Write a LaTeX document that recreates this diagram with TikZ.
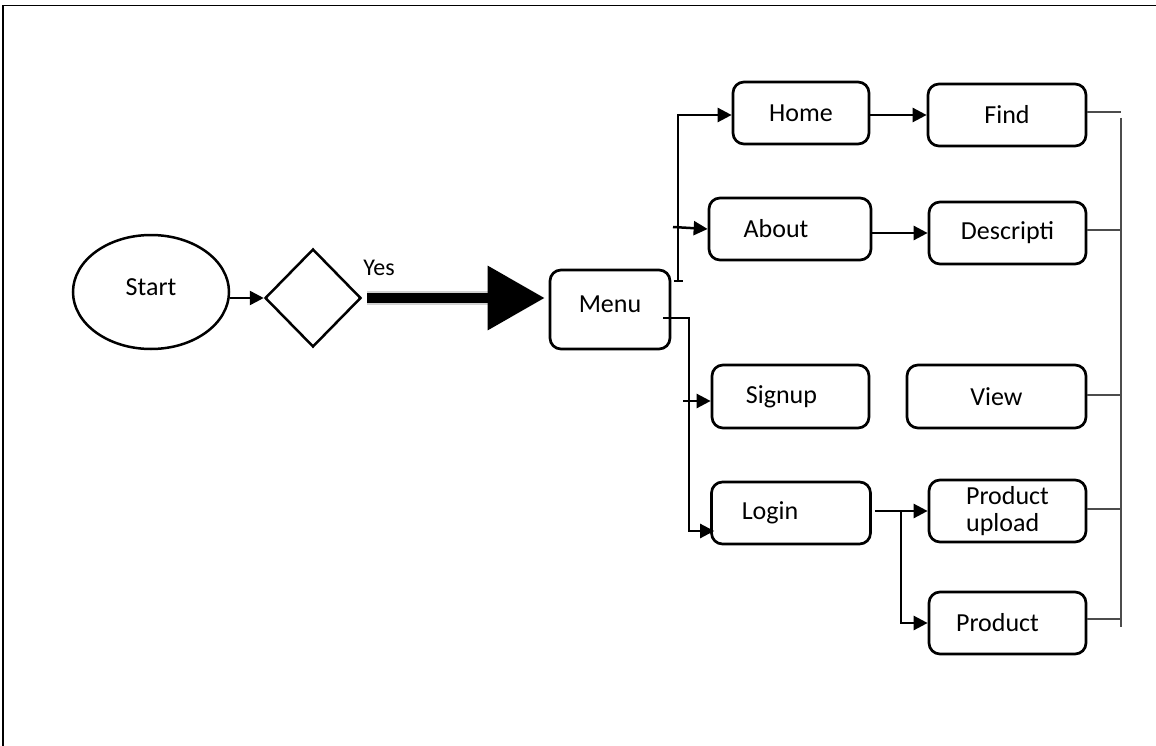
\documentclass[tikz,border=0pt]{standalone}
\usepackage{fontspec}
\setmainfont{Carlito}
\usetikzlibrary{arrows.meta,shapes.geometric,calc}
\begin{document}
\begin{tikzpicture}[x=1pt,y=-1pt,
  box/.style={draw,line width=2.7pt,rounded corners=11pt,minimum width=#1,minimum height=62pt,inner sep=0pt,font=\fontsize{26}{27}\selectfont},
  box/.default=158pt,
  arr/.style={line width=2.5pt,-{Triangle[length=14pt,width=14pt]}},
  ln/.style={line width=2.5pt},
  brk/.style={line width=1.5pt,draw=black!70},
  frame/.style={line width=1.8pt}]
\useasboundingbox (0,0) rectangle (1156,746);
% frame
\coordinate (f0) at (3,746);
\coordinate (f1) at (3,5.5);
\coordinate (f2) at (1156,5.5);
\draw[frame] (f0) -- (f1) -- (f2);
% nodes
\node[draw,ellipse,line width=2.5pt,minimum width=156pt,minimum height=114pt,inner sep=0pt,font=\fontsize{26}{27}\selectfont] (start) at (151,292) {\raisebox{5pt}[\height][\depth]{Start}};
\node[draw,diamond,shape aspect=1,line width=2.5pt,minimum width=96pt,minimum height=98pt,inner sep=0pt] (dec) at (313,298) {};
\node[font=\fontsize{24}{26}\selectfont,inner sep=0pt] (yes) at (379,268) {Yes};
\node[box=120pt,minimum height=79pt] (menu) at (610,309.5) {\raisebox{5pt}[\height][\depth]{Menu}};
\node[box=136pt] (home) at (801,113) {Home};
\node[box=158pt] (find) at (1007,115) {Find};
\node[box=162pt] (about) at (790,229) {About\kern28pt};
\node[box=157pt] (desc) at (1007.5,233) {Descripti};
\node[box=157pt,minimum height=63pt] (signup) at (790.5,396.5) {Signup\kern18pt};
\node[box=179pt,minimum height=63pt] (view) at (996.5,396.5) {View};
\node[box=159pt] (login) at (791,513) {Login\kern42pt};
\node[box=157pt,align=left] (pup) at (1007.5,511) {Product\\upload};
\node[box=157pt] (prod) at (1007.5,623) {Product\kern20pt};
% start -> decision
\draw[arr] (start.east |- dec.west) -- (dec.west);
% big arrow
\coordinate (h0) at ([xshift=5pt]dec.east);
\coordinate (h1) at (490,298);
\draw[line width=14pt,black!18] (h0) -- (h1);
\draw[line width=10pt,-{Triangle[length=57pt,width=62pt]}] (h0) -- ([xshift=-4pt]menu.west |- dec.east);
% menu -> home / about
\coordinate (t1) at (678,282);
\coordinate (t2) at (678,115);
\coordinate (tk0) at (674,281);
\coordinate (tk1) at (683,281);
\draw[ln] (tk0) -- (tk1);
\draw[arr] (t1) -- (t2) -- (home.west |- t2);
\coordinate (a0) at (673,227);
\draw[arr] (a0) -- (about.west);
% menu -> signup / login
\coordinate (m0) at (663,318);
\coordinate (m1) at (689,318);
\coordinate (m2) at (689,531);
\draw[arr] (m0) -- (m1) -- (m2) -- ([xshift=4pt]login.west |- m2);
\coordinate (s0) at (683,401);
\draw[arr] (s0) -- (signup.west |- s0);
% second column
\draw[arr] (home.east |- find.west) -- (find.west);
\draw[arr] (about.east |- desc.west) -- (desc.west);
\draw[arr] ([xshift=3pt]login.east |- pup.west) -- (pup.west);
\coordinate (l1) at (901,512);
\draw[arr] (l1) -- (l1 |- prod.west) -- (prod.west);
% right bracket
\coordinate (b1) at (1121,118);
\coordinate (b2) at (1121,627);
\draw[brk] (b1) -- (b2);
\draw[brk] ([yshift=3pt]find.east) -- ([yshift=3pt]find.east -| b1);
\draw[brk] ([yshift=3pt]desc.east) -- ([yshift=3pt]desc.east -| b1);
\draw[brk] ([yshift=1.5pt]view.east) -- ([yshift=1.5pt]view.east -| b1);
\draw[brk] ([yshift=2pt]pup.east) -- ([yshift=2pt]pup.east -| b1);
\draw[brk] ([yshift=4pt]prod.east) -- ([yshift=4pt]prod.east -| b1);
\end{tikzpicture}
\end{document}
